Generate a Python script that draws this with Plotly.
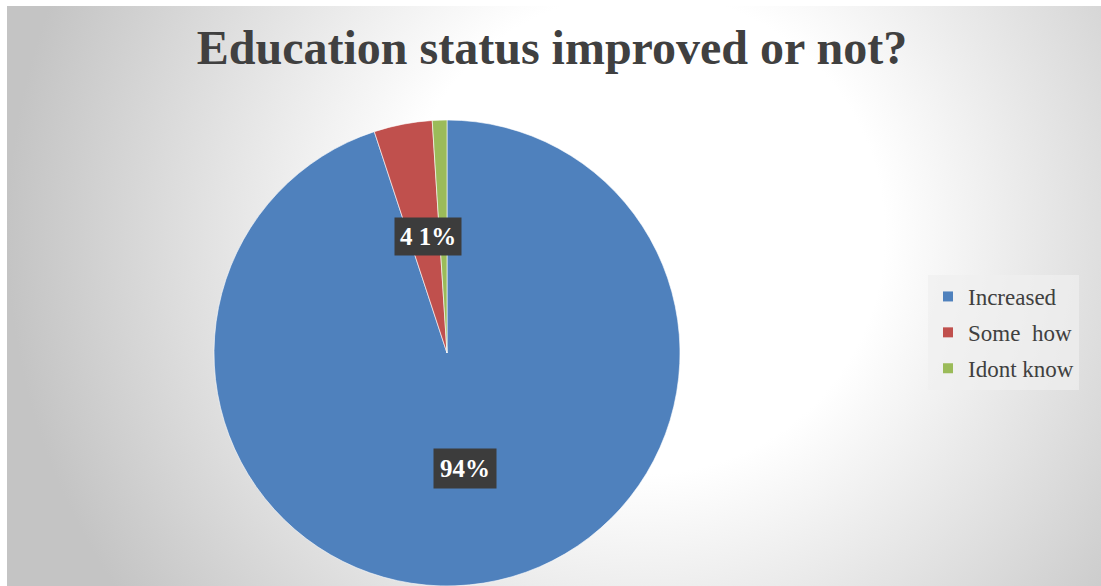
import base64
import math
import plotly.graph_objects as go

# Survey answers
categories = ["Increased", "Some  how", "Idont know"]
percent = [94, 4, 1]
colors = ["#4F81BD", "#C0504D", "#9BBB59"]
title_text = "Education status improved or not?"

W, H = 1101, 586

# Soft radial backdrop for the chart area
svg = f"""<svg xmlns='http://www.w3.org/2000/svg' width='{W}' height='{H}' viewBox='0 0 {W} {H}' preserveAspectRatio='none'>
<defs><radialGradient id='g' gradientUnits='userSpaceOnUse' cx='640' cy='230' r='640'>
<stop offset='0' stop-color='#ffffff'/><stop offset='0.38' stop-color='#ffffff'/>
<stop offset='1' stop-color='#c4c4c4'/></radialGradient></defs>
<rect x='0' y='0' width='{W}' height='{H}' fill='url(#g)'/></svg>"""
bg_uri = "data:image/svg+xml;base64," + base64.b64encode(svg.encode()).decode()

# Pie geometry (pixels)
pie_left, pie_right, pie_top, pie_bottom = 214, 680, 120, 586
cx_px = (pie_left + pie_right) / 2
cy_px = (pie_top + pie_bottom) / 2
radius = (pie_right - pie_left) / 2

fig = go.Figure()
fig.add_trace(go.Pie(
    labels=categories,
    values=percent,
    marker=dict(colors=colors, line=dict(color="white", width=0.6)),
    sort=False,
    direction="clockwise",
    rotation=0,
    textinfo="none",
    hoverinfo="label+value",
    showlegend=False,
    domain=dict(x=[pie_left / W, pie_right / W], y=[1 - pie_bottom / H, 1 - pie_top / H]),
))

# Legend entries
for name, col in zip(categories, colors):
    fig.add_trace(go.Scatter(
        x=[0], y=[0], mode="markers", name=name, legendgroup=name,
        marker=dict(symbol="square", size=10, color=col),
        hoverinfo="skip",
    ))

# Slice angles (clockwise from 12 o'clock)
total = sum(percent)
bounds = [0.0]
for v in percent:
    bounds.append(bounds[-1] + 360.0 * v / total)


def label_pos(angle_deg, frac):
    a = math.radians(angle_deg)
    px = cx_px + math.sin(a) * radius * frac
    py = cy_px - math.cos(a) * radius * frac
    return px / W, 1 - py / H


label_font = dict(family="Liberation Serif", size=25, color="white", weight="bold")
x0, y0 = label_pos((bounds[0] + bounds[1]) / 2, 0.5)
x1, y1 = label_pos((bounds[1] + bounds[3]) / 2, 0.505)
fig.add_annotation(x=x0, y=y0, xref="paper", yref="paper", text=f"{percent[0]}%",
                   xanchor="center", yanchor="middle",
                   showarrow=False, font=label_font, bgcolor="#3c3c3c", borderpad=6)
fig.add_annotation(x=x1, y=y1, xref="paper", yref="paper", text=f"{percent[1]} {percent[2]}%",
                   xanchor="center", yanchor="middle",
                   showarrow=False, font=label_font, bgcolor="#3c3c3c", borderpad=5)

fig.add_layout_image(dict(
    source=bg_uri, xref="paper", yref="paper",
    x=7 / W, y=1 - 6 / H, sizex=(W - 7) / W, sizey=(H - 6) / H,
    xanchor="left", yanchor="top", sizing="stretch", layer="below",
))

fig.update_layout(
    width=W, height=H,
    margin=dict(l=0, r=0, t=0, b=0),
    paper_bgcolor="white",
    plot_bgcolor="rgba(0,0,0,0)",
    title=dict(text=title_text, x=552 / W, y=1 - 47 / H, xanchor="center", yanchor="middle",
               font=dict(family="Liberation Serif", size=48, color="#404040", weight="bold")),
    xaxis=dict(visible=False, range=[1, 2], domain=[0, 0.01]),
    yaxis=dict(visible=False, range=[1, 2], domain=[0, 0.01]),
    legend=dict(x=928 / W, y=1 - 275 / H, xanchor="left", yanchor="top",
                font=dict(family="Liberation Serif", size=23, color="#404040"),
                bgcolor="rgba(240,240,240,0.7)", traceorder="grouped", tracegroupgap=3),
    showlegend=True,
)

fig.write_html("out.html")
